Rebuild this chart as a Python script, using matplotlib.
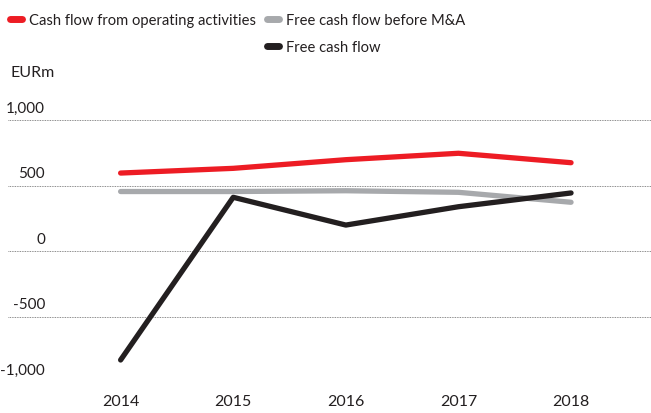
import matplotlib.pyplot as plt
from matplotlib.lines import Line2D
from matplotlib.transforms import blended_transform_factory

plt.rcParams['font.family'] = ['Lato', 'DejaVu Sans']

# Data (EURm)
years = [2014, 2015, 2016, 2017, 2018]
operating_cf = [595, 631, 697, 746, 674]
fcf_before_ma = [454, 454, 460, 448, 372]
free_cf = [-832, 410, 198, 338, 443]

y_ticks = [1000, 500, 0, -500, -1000]
y_labels = ["1,000", "500", "0", "-500", "-1,000"]

red = "#ED1C24"
grey = "#A7A9AC"
black = "#231F20"
text_col = "#231F20"

fig = plt.figure(figsize=(6.51, 4.14), dpi=100)
ax = fig.add_axes([8 / 651, 1 - 383 / 414, 1 - 8 / 651, (383 - 121) / 414])

lw = 3.8
ax.plot(years, fcf_before_ma, color=grey, lw=lw, solid_capstyle="round",
        solid_joinstyle="round", clip_on=False, zorder=3)
ax.plot(years, operating_cf, color=red, lw=lw, solid_capstyle="round",
        solid_joinstyle="round", clip_on=False, zorder=4)
ax.plot(years, free_cf, color=black, lw=lw, solid_capstyle="round",
        solid_joinstyle="round", clip_on=False, zorder=5)

ax.set_xlim(2013.0, 2018.71)
ax.set_ylim(-1000, 1000)

# dotted gridlines
for t in y_ticks:
    ax.axhline(t, color="#666666", lw=0.6, ls=(0, (1, 1)), zorder=1)

trans = blended_transform_factory(fig.transFigure, ax.transData)
for t, lab in zip(y_ticks, y_labels):
    ax.text(45 / 651, t + 40, lab, transform=trans, ha="right", va="bottom",
            fontsize=11, color=text_col)

for s in ax.spines.values():
    s.set_visible(False)
ax.set_yticks([])
ax.set_xticks(years)
ax.set_xticklabels([str(y) for y in years], fontsize=11.5, color=text_col)
ax.tick_params(axis="x", length=0, pad=9)

fig.text(11 / 651, 1 - 73 / 414, "EURm", fontsize=11.5, color=text_col,
         ha="left", va="center")

# legend: two columns, black entry sits under the grey one
handles = [
    Line2D([], [], color=red, lw=5, solid_capstyle="round"),
    Line2D([], [], color="none"),
    Line2D([], [], color=grey, lw=5, solid_capstyle="round"),
    Line2D([], [], color=black, lw=5, solid_capstyle="round"),
]
labels = ["Cash flow from operating activities", "",
          "Free cash flow before M&A", "Free cash flow"]
fig.legend(handles, labels, ncol=2, loc="upper left",
           bbox_to_anchor=(0.0, 0.99), frameon=False, fontsize=10.6,
           handlelength=0.8, handletextpad=0.5, columnspacing=0.7,
           labelspacing=0.85, borderaxespad=0.3, labelcolor=text_col)

fig.savefig("out.png", dpi=100)
